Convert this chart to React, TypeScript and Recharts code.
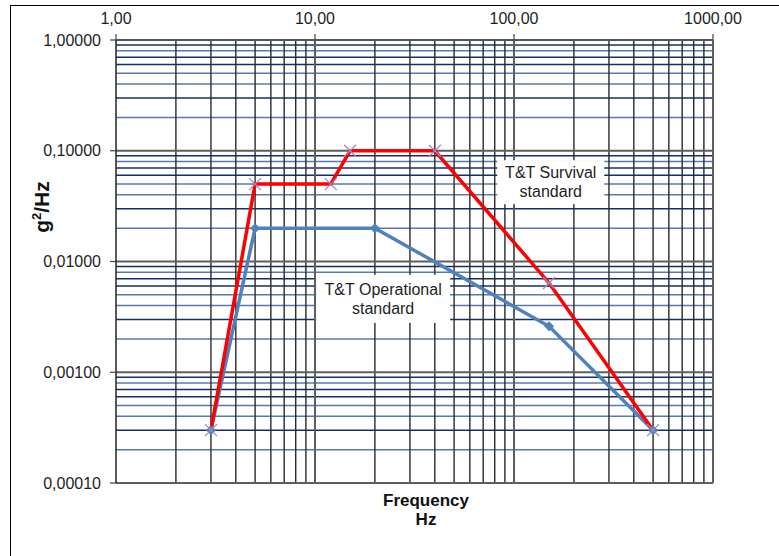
import React from 'react';
import { LineChart, Line, XAxis, YAxis, ReferenceLine, ReferenceDot } from 'recharts';

const freqTicks = [1, 10, 100, 1000];
const psdTicks = [0.0001, 0.001, 0.01, 0.1, 1];

const survivalFreq = [3, 5, 12, 15, 40, 150, 500];
const survivalPsd = [0.0003, 0.05, 0.05, 0.1, 0.1, 0.0064, 0.0003];

const operationalFreq = [3, 5, 20, 150, 500];
const operationalPsd = [0.0003, 0.02, 0.02, 0.0026, 0.0003];

const minorMultipliers = [2, 3, 4, 5, 6, 7, 8, 9];
const minorFreqGrid = [1, 10, 100].flatMap((d) => minorMultipliers.map((m) => m * d));
const minorPsdGrid = [0.0001, 0.001, 0.01, 0.1].flatMap((d) => minorMultipliers.map((m) => +(m * d).toPrecision(3)));
const majorFreqGrid = [10, 100, 1000];
const majorPsdGrid = [0.0001, 0.001, 0.01, 0.1, 1];

const survivalData = survivalFreq.map((f, i) => ({ f, v: survivalPsd[i] }));
const operationalData = operationalFreq.map((f, i) => ({ f, v: operationalPsd[i] }));

const FONT = '"Liberation Sans", Arial, sans-serif';
const navy = '#132f6b';
const steel = '#5b79ab';
const steelPattern: Record<number, string> = { 2: steel, 3: navy, 4: steel, 5: steel, 6: navy, 7: navy, 8: steel, 9: navy };

const fmtFreq = (v: number) => v.toFixed(2).replace('.', ',');
const fmtPsd = (v: number) => v.toFixed(5).replace('.', ',');

const XDot = (props: any) => {
  const { cx, cy } = props;
  if (cx == null || cy == null) return null;
  const s = 6;
  return (
    <g>
      <line x1={cx - s} y1={cy - s} x2={cx + s} y2={cy + s} stroke="#9c8cc4" strokeWidth={1.3} />
      <line x1={cx - s} y1={cy + s} x2={cx + s} y2={cy - s} stroke="#9c8cc4" strokeWidth={1.3} />
    </g>
  );
};

const DiamondDot = (props: any) => {
  const { cx, cy } = props;
  if (cx == null || cy == null) return null;
  const s = 5;
  return <polygon points={`${cx},${cy - s} ${cx + s},${cy} ${cx},${cy + s} ${cx - s},${cy}`} fill="#4f81bd" />;
};

const makeLabel = (lines: string[], w: number, h: number) => (props: any) => {
  const { cx, cy } = props;
  if (cx == null || cy == null) return null;
  return (
    <g>
      <rect x={cx - w / 2} y={cy - h / 2} width={w} height={h} fill="#ffffff" />
      {lines.map((t, i) => (
        <text
          key={i}
          x={cx}
          y={cy + (i - (lines.length - 1) / 2) * 19 + 5.5}
          textAnchor="middle"
          fontFamily={FONT}
          fontSize={16}
          fill="#1e1e1e"
        >
          {t}
        </text>
      ))}
    </g>
  );
};

const SurvivalLabel = makeLabel(['T&T Survival', 'standard'], 107, 44);
const OperationalLabel = makeLabel(['T&T Operational', 'standard'], 134, 48);

export default function App() {
  return (
    <div style={{ position: 'relative', width: 779, height: 556, overflow: 'hidden', background: '#fff' }}>
      <style>{'body{margin:0;}'}</style>
      <div
        style={{
          position: 'absolute',
          left: 10,
          top: 5,
          width: 900,
          height: 700,
          borderLeft: '1.5px solid #000',
          borderTop: '1.5px solid #000',
        }}
      />
      <div style={{ position: 'absolute', left: 0, top: 0 }}>
        <LineChart width={779} height={556} margin={{ top: 10, right: 66, bottom: 73, left: 16 }}>
          <XAxis
            xAxisId="f"
            dataKey="f"
            type="number"
            scale="log"
            domain={[1, 1000]}
            ticks={freqTicks}
            allowDataOverflow
            orientation="top"
            height={30}
            tickFormatter={fmtFreq}
            tickSize={6}
            tickMargin={10}
            tick={{ fontFamily: FONT, fontSize: 16, fill: '#1e1e1e' }}
            axisLine={{ stroke: '#555', strokeWidth: 2 }}
            tickLine={{ stroke: '#444', strokeWidth: 1.2 }}
            interval={0}
          />
          <YAxis
            yAxisId="p"
            dataKey="v"
            type="number"
            scale="log"
            domain={[0.0001, 1]}
            ticks={psdTicks}
            allowDataOverflow
            width={100}
            tickFormatter={fmtPsd}
            tickSize={6}
            tickMargin={9}
            tick={{ fontFamily: FONT, fontSize: 16, fill: '#1e1e1e' }}
            axisLine={{ stroke: '#222', strokeWidth: 1.5 }}
            tickLine={{ stroke: '#444', strokeWidth: 1.2 }}
            interval={0}
          />
          {minorPsdGrid.map((v) => (
            <ReferenceLine
              key={'hy' + v}
              xAxisId="f"
              yAxisId="p"
              y={v}
              stroke={steelPattern[Math.round(v / Math.pow(10, Math.floor(Math.log10(v) + 1e-9)))] || navy}
              strokeWidth={1.5}
            />
          ))}
          {minorFreqGrid.map((v) => (
            <ReferenceLine key={'vx' + v} xAxisId="f" yAxisId="p" x={v} stroke="#2a2a2a" strokeWidth={1.4} />
          ))}
          {majorPsdGrid.map((v) => (
            <ReferenceLine key={'My' + v} xAxisId="f" yAxisId="p" y={v} stroke="#5e5e5e" strokeWidth={2} ifOverflow="extendDomain" />
          ))}
          {majorFreqGrid.map((v) => (
            <ReferenceLine key={'Mx' + v} xAxisId="f" yAxisId="p" x={v} stroke="#5e5e5e" strokeWidth={2} ifOverflow="extendDomain" />
          ))}
          <Line
            xAxisId="f"
            yAxisId="p"
            data={operationalData}
            dataKey="v"
            stroke="#4f81bd"
            strokeWidth={3.5}
            dot={<DiamondDot />}
            isAnimationActive={false}
          />
          <Line
            xAxisId="f"
            yAxisId="p"
            data={survivalData}
            dataKey="v"
            stroke="#ff0000"
            strokeWidth={3.5}
            dot={<XDot />}
            isAnimationActive={false}
          />
          <ReferenceDot xAxisId="f" yAxisId="p" x={153} y={0.052} shape={SurvivalLabel} />
          <ReferenceDot xAxisId="f" yAxisId="p" x={22} y={0.0046} shape={OperationalLabel} />
        </LineChart>
      </div>
      <div
        style={{
          position: 'absolute',
          left: 41,
          top: 207,
          transform: 'translate(-50%, -50%) rotate(-90deg)',
          fontFamily: FONT,
          fontWeight: 'bold',
          fontSize: 21,
          color: '#111',
          whiteSpace: 'nowrap',
        }}
      >
        g<sup style={{ fontSize: 13 }}>2</sup>/Hz
      </div>
      <div
        style={{
          position: 'absolute',
          left: 426,
          top: 491,
          transform: 'translateX(-50%)',
          fontFamily: FONT,
          fontWeight: 'bold',
          fontSize: 17,
          lineHeight: '19px',
          color: '#111',
          textAlign: 'center',
          whiteSpace: 'nowrap',
        }}
      >
        Frequency
        <br />
        Hz
      </div>
    </div>
  );
}
